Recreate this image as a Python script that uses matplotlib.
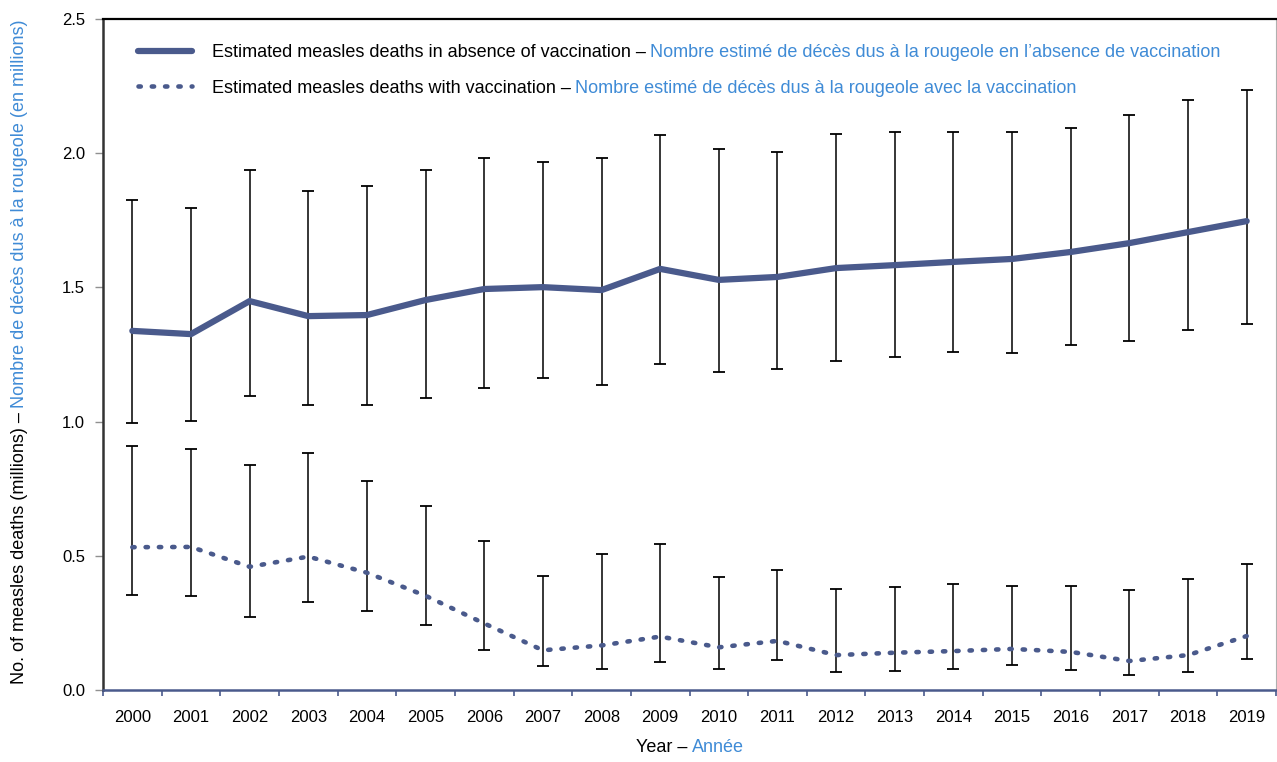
import matplotlib.pyplot as plt
import numpy as np

plt.rcParams['font.family'] = ['Liberation Sans', 'DejaVu Sans']

# measles deaths (millions), 2000-2019
years = [str(y) for y in range(2000, 2020)]

no_vacc = [1.338, 1.326, 1.449, 1.393, 1.397, 1.453, 1.494, 1.501, 1.490, 1.569,
           1.528, 1.539, 1.572, 1.583, 1.595, 1.606, 1.632, 1.665, 1.706, 1.747]
no_vacc_hi = [1.826, 1.797, 1.939, 1.859, 1.879, 1.939, 1.983, 1.966, 1.983, 2.069,
              2.016, 2.004, 2.071, 2.079, 2.079, 2.079, 2.094, 2.142, 2.198, 2.235]
no_vacc_lo = [0.995, 1.002, 1.095, 1.062, 1.062, 1.088, 1.125, 1.162, 1.136, 1.215,
              1.185, 1.196, 1.226, 1.241, 1.259, 1.256, 1.285, 1.300, 1.341, 1.364]

with_vacc = [0.532, 0.533, 0.459, 0.497, 0.437, 0.351, 0.248, 0.148, 0.166, 0.199,
             0.159, 0.183, 0.130, 0.139, 0.145, 0.153, 0.142, 0.108, 0.130, 0.201]
with_vacc_hi = [0.910, 0.899, 0.839, 0.882, 0.779, 0.686, 0.556, 0.426, 0.507, 0.544,
                0.420, 0.447, 0.376, 0.383, 0.395, 0.387, 0.387, 0.373, 0.414, 0.469]
with_vacc_lo = [0.355, 0.350, 0.273, 0.328, 0.294, 0.241, 0.149, 0.089, 0.078, 0.104,
                0.078, 0.111, 0.067, 0.072, 0.078, 0.093, 0.075, 0.056, 0.067, 0.116]

navy = '#4a5a8c'
lightblue = '#3f8bd6'
W, H = 1277, 762
fs = 13

fig = plt.figure(figsize=(W / 100, H / 100), dpi=100)
ax = fig.add_axes([103 / W, 1 - 690 / H, 1173 / W, 671 / H])

x = np.arange(len(years))
nv = np.array(no_vacc)
wv = np.array(with_vacc)

#error bars first, lines drawn over them
ax.errorbar(x, nv, yerr=[nv - np.array(no_vacc_lo), np.array(no_vacc_hi) - nv],
            fmt='none', ecolor='black', elinewidth=1.1, capsize=4, capthick=1.3, zorder=2)
ax.errorbar(x, wv, yerr=[wv - np.array(with_vacc_lo), np.array(with_vacc_hi) - wv],
            fmt='none', ecolor='black', elinewidth=1.1, capsize=4, capthick=1.3, zorder=2)

l1, = ax.plot(x, nv, color=navy, lw=4.5, solid_capstyle='round', zorder=3,
              label='Estimated measles deaths in absence of vaccination –')
l2, = ax.plot(x, wv, color=navy, lw=3.3, linestyle=(0, (0.5, 2.4)),
              dash_capstyle='round', zorder=3,
              label='Estimated measles deaths with vaccination –')

ax.set_xlim(-0.5, len(years) - 0.5)
ax.set_ylim(0, 2.5)

#year labels at centres, small blue ticks on the boundaries
ax.set_xticks(x)
ax.set_xticklabels(years, fontsize=12)
ax.tick_params(axis='x', which='major', length=0, pad=14.5)
ax.set_xticks(np.arange(-0.5, len(years)), minor=True)
ax.tick_params(axis='x', which='minor', length=4, width=1.2, color=navy)

ax.set_yticks([0, 0.5, 1.0, 1.5, 2.0, 2.5])
ax.set_yticklabels(['0.0', '0.5', '1.0', '1.5', '2.0', '2.5'], fontsize=12)
ax.tick_params(axis='y', length=6, width=1, color='#909090', pad=7)

ax.spines['top'].set_color('black')
ax.spines['top'].set_linewidth(1.6)
ax.spines['left'].set_color('#333333')
ax.spines['left'].set_linewidth(1.8)
ax.spines['right'].set_color('#b0b0b0')
ax.spines['right'].set_linewidth(0.8)
ax.spines['bottom'].set_color(navy)
ax.spines['bottom'].set_linewidth(1.8)

leg = ax.legend(handles=[l1, l2], loc='upper left', bbox_to_anchor=(0.0298, 0.962),
                frameon=False, fontsize=fs, handlelength=3.0, handletextpad=1.1,
                labelspacing=1.0, borderpad=0, borderaxespad=0)
fr_labels = ['Nombre estimé de décès dus à la rougeole en l’absence de vaccination',
             'Nombre estimé de décès dus à la rougeole avec la vaccination']
# zorder above the legend so its text is placed before these are laid out
for t, s in zip(leg.get_texts(), fr_labels):
    ax.annotate(s, xy=(1, 0), xycoords=t, xytext=(3, 0), textcoords='offset points',
                ha='left', va='bottom', color=lightblue, fontsize=fs, zorder=10)

renderer = fig.canvas.get_renderer()


def two_tone(cx, cy, first, second, vertical=False, gap=4):
    # cx, cy: centre of the whole string, in pixels from the top left
    rot = 90 if vertical else 0
    t1 = fig.text(0, 0, first, color='black', rotation=rot, fontsize=fs)
    t2 = fig.text(0, 0, second, color=lightblue, rotation=rot, fontsize=fs)
    b1 = t1.get_window_extent(renderer)
    b2 = t2.get_window_extent(renderer)
    cy = H - cy
    if vertical:
        total = b1.height + gap + b2.height
        y0 = cy - total / 2
        t1.set_position((cx / W, y0 / H))
        t2.set_position((cx / W, (y0 + b1.height + gap) / H))
        for t in (t1, t2):
            t.set_ha('center')
            t.set_va('bottom')
    else:
        total = b1.width + gap + b2.width
        x0 = cx - total / 2
        t1.set_position((x0 / W, cy / H))
        t2.set_position(((x0 + b1.width + gap) / W, cy / H))
        for t in (t1, t2):
            t.set_ha('left')
            t.set_va('center')


two_tone(690, 748, 'Year –', 'Année')
two_tone(20, 352, 'No. of measles deaths (millions) –',
         'Nombre de décès dus à la rougeole (en millions)', vertical=True)

fig.savefig('out.png', dpi=100)
